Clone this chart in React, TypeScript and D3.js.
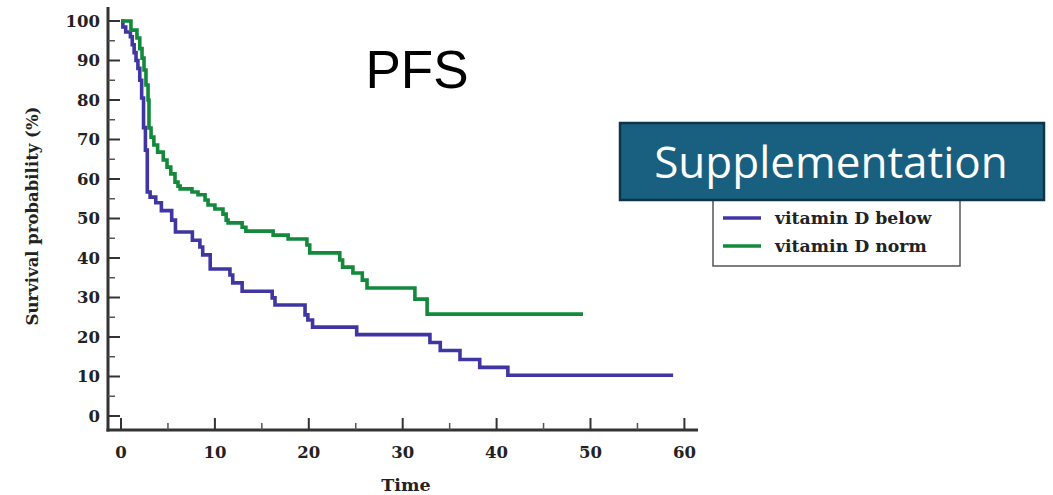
import React from "react";
import * as d3 from "d3";

// Kaplan–Meier steps: [time, survival %] — survival from that time on
const belowSteps: [number, number][] = [
  [0, 100], [0.2, 98.5], [0.5, 97.2], [1.0, 96], [1.2, 94], [1.4, 92], [1.6, 90],
  [1.8, 88], [2.0, 85], [2.2, 80.5], [2.4, 73], [2.6, 67.3], [2.8, 56.7], [3.1, 55.4],
  [3.7, 54], [4.3, 52], [5.4, 49.6], [5.8, 46.6], [7.6, 44.5], [8.4, 42.8], [8.7, 40.8],
  [9.5, 37.2], [11.6, 35.7], [11.9, 33.7], [12.9, 31.6], [16.1, 29.9], [16.4, 28.1],
  [19.6, 25.6], [19.9, 24.3], [20.4, 22.5], [25.1, 20.6], [32.9, 18.6], [34.0, 16.6],
  [36.1, 14.3], [38.2, 12.3], [41.2, 10.3], [58.8, 10.3],
];
const normSteps: [number, number][] = [
  [0, 100], [1.06, 97.7], [1.7, 95.7], [2.0, 93], [2.24, 90.6], [2.45, 87.6], [2.66, 83.8],
  [2.88, 80], [2.98, 72.9], [3.2, 70.6], [3.5, 68.6], [3.9, 66.8], [4.5, 64.8], [4.9, 63],
  [5.3, 61.3], [5.75, 59.2], [6.07, 58.2], [6.3, 57.5], [7.56, 56.7], [8.2, 56], [8.95, 54.7],
  [9.27, 53.4], [10.0, 52.4], [10.86, 51.1], [11.2, 49.6], [11.4, 48.9], [12.9, 47.8],
  [13.3, 46.8], [16.2, 45.8], [17.8, 44.8], [19.8, 43.3], [20.1, 41.3], [23.3, 39.5],
  [23.6, 37.7], [24.7, 36.2], [25.7, 34.4], [26.2, 32.4], [31.3, 29.6], [32.6, 25.8],
  [49.2, 25.8],
];

const xTicks = [0, 10, 20, 30, 40, 50, 60];
const xMinor = [5, 15, 25, 35, 45, 55];
const yTicks = [0, 10, 20, 30, 40, 50, 60, 70, 80, 90, 100];
const yMinor = [5, 15, 25, 35, 45, 55, 65, 75, 85, 95];
const seriesNames = ["vitamin D below", "vitamin D norm"];
const colors = ["#3f36a4", "#12893b"];

export default function App() {
  const x = d3.scaleLinear().domain([0, 60]).range([121, 684.4]);
  const y = d3.scaleLinear().domain([0, 100]).range([416, 21]);
  const line = d3
    .line<[number, number]>()
    .x((d) => x(d[0]))
    .y((d) => y(d[1]))
    .curve(d3.curveStepAfter);
  const axisColor = "#333";
  const serif = "'DejaVu Serif', serif";
  const axisX = 108;
  const axisY = 430;
  return (
    <svg
      width={1053}
      height={495}
      style={{ position: "absolute", left: 0, top: 0, background: "#fff" }}
    >
      {/* curves */}
      {[belowSteps, normSteps].map((s, i) => (
        <path
          key={i}
          d={line(s) || ""}
          fill="none"
          stroke={colors[i]}
          strokeWidth={3.6}
        />
      ))}
      {/* axes */}
      <line x1={axisX} y1={7} x2={axisX} y2={axisY + 1.5} stroke={axisColor} strokeWidth={3} />
      <line x1={axisX - 1.5} y1={axisY} x2={698} y2={axisY} stroke={axisColor} strokeWidth={3} />
      {yTicks.map((t) => (
        <g key={"y" + t}>
          <line x1={axisX} x2={axisX + 12} y1={y(t)} y2={y(t)} stroke={axisColor} strokeWidth={2} />
          <text
            x={100}
            y={y(t)}
            dy="0.36em"
            textAnchor="end"
            fontFamily={serif}
            fontWeight="bold"
            fontSize={16.5}
            fill="#222"
          >
            {t}
          </text>
        </g>
      ))}
      {yMinor.map((t) => (
        <line key={"ym" + t} x1={axisX} x2={axisX + 7} y1={y(t)} y2={y(t)} stroke="#555" strokeWidth={1.5} />
      ))}
      {xTicks.map((t) => (
        <g key={"x" + t}>
          <line x1={x(t)} x2={x(t)} y1={axisY} y2={axisY - 12} stroke={axisColor} strokeWidth={2} />
          <text
            x={x(t)}
            y={458}
            textAnchor="middle"
            fontFamily={serif}
            fontWeight="bold"
            fontSize={16.5}
            fill="#222"
          >
            {t}
          </text>
        </g>
      ))}
      {xMinor.map((t) => (
        <line key={"xm" + t} x1={x(t)} x2={x(t)} y1={axisY} y2={axisY - 7} stroke="#555" strokeWidth={1.5} />
      ))}
      <text
        x={406}
        y={491}
        textAnchor="middle"
        fontFamily={serif}
        fontWeight="bold"
        fontSize={17.5}
        fill="#222"
      >
        Time
      </text>
      <text
        transform={`translate(38,216) rotate(-90)`}
        textAnchor="middle"
        fontFamily={serif}
        fontWeight="bold"
        fontSize={16.5}
        fill="#222"
      >
        Survival probability (%)
      </text>
      {/* title */}
      <text
        x={417}
        y={88}
        textAnchor="middle"
        fontFamily="'Liberation Sans', Arial, sans-serif"
        fontSize={53}
        fill="#000"
      >
        PFS
      </text>
      {/* legend */}
      <rect x={713} y={190} width={247} height={76} fill="#fff" stroke="#555" strokeWidth={1.5} />
      {seriesNames.map((n, i) => (
        <g key={n}>
          <line x1={723} x2={761} y1={218 + i * 28} y2={218 + i * 28} stroke={colors[i]} strokeWidth={3.6} />
          <text
            x={775}
            y={218 + i * 28}
            dy="0.32em"
            fontFamily={serif}
            fontWeight="bold"
            fontSize={17.3}
            fill="#222"
          >
            {n}
          </text>
        </g>
      ))}
      {/* Supplementation box */}
      <rect x={620} y={123} width={424} height={77} fill="#185f80" stroke="#0d3447" strokeWidth={2.5} />
      <text
        x={831}
        y={162}
        dy="0.36em"
        textAnchor="middle"
        fontFamily="'Open Sans', sans-serif"
        fontSize={44}
        fill="#fff"
      >
        Supplementation
      </text>
    </svg>
  );
}
